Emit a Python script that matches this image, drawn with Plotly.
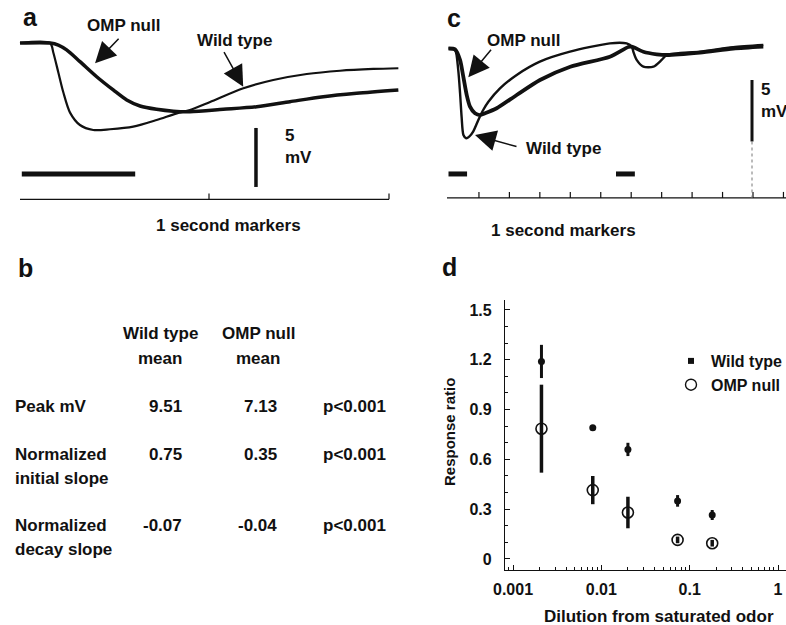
import plotly.graph_objects as go

W, H = 786, 625

# ---------------- data ----------------
# Panel a: membrane potential traces (time in s, potential in mV)
a_wt_t = [-0.05, 0.117, 0.135, 0.163, 0.191, 0.228, 0.283, 0.357, 0.45, 0.579, 0.709,
          0.821, 0.894, 1.006, 1.191, 1.357, 1.543, 1.728, 1.913, 2.052]
a_wt_mv = [0, 0, -0.8, -2.5, -4.2, -5.9, -6.95, -7.37, -7.31, -7.09, -6.53,
           -5.96, -5.68, -5.0, -3.84, -3.14, -2.63, -2.35, -2.20, -2.14]
a_omp_t = [-0.05, 0.117, 0.163, 0.209, 0.283, 0.376, 0.468, 0.543, 0.617, 0.709, 0.802,
           0.894, 1.079, 1.265, 1.45, 1.635, 1.82, 2.052]
a_omp_mv = [0, 0, -0.17, -0.59, -1.58, -2.86, -3.98, -4.83, -5.34, -5.62, -5.78,
            -5.82, -5.62, -5.40, -4.97, -4.55, -4.26, -3.98]
a_stim = [-0.04, 0.59]          # odor pulse (s)
a_markers = [1, 2]              # 1 second markers
a_marker_span = [-0.05, 2.0]
a_scale_t = 1.261
a_scale_mv = 5

# Panel c: longer recording with two odor pulses
c_wt_t = [0, 0.21, 0.32, 0.38, 0.43, 0.49, 0.58, 0.68, 0.81, 0.98, 1.14, 1.31, 1.69, 2.24,
          3.0, 3.99, 5.3, 5.85, 6.02, 6.07, 6.18, 6.4, 6.73, 7.0, 7.17, 8.26, 9.35, 10.34]
c_wt_mv = [0, -0.07, -1.75, -3.64, -5.54, -7.03, -7.3, -7.17, -6.76, -5.81, -5.0, -4.33,
           -3.24, -2.15, -1.07, -0.26, 0.42, 0.41, 0.15, -0.26, -0.93, -1.48, -1.48, -0.93,
           -0.53, -0.26, 0.10, 0.28]
c_omp_t = [0, 0.213, 0.378, 0.486, 0.598, 0.706, 0.87, 1.034, 1.199, 1.583, 2.24, 3.005,
           4.0, 5.3, 5.905, 6.016, 6.397, 6.837, 7.166, 8.259, 9.353, 10.338]
c_omp_mv = [0, -0.07, -0.93, -2.29, -3.78, -4.73, -5.27, -5.41, -5.27, -4.86, -3.78, -2.56,
            -1.48, -0.67, 0.12, 0.15, -0.26, -0.47, -0.53, -0.33, 0.0, 0.16]
c_stims = [[0.0, 0.61], [5.5, 6.12]]
c_markers = [1, 2, 3, 4, 5, 6, 7, 8, 9, 10, 11]
c_marker_span = [-0.05, 11.2]
c_scale_t = 9.967
c_scale_mv = 5

# Panel b: table
b_head_wt = ["Wild type", "mean"]
b_head_omp = ["OMP null", "mean"]
b_row_labels = [["Peak mV"], ["Normalized", "initial slope"], ["Normalized", "decay slope"]]
b_wt = ["9.51", "0.75", "-0.07"]
b_omp = ["7.13", "0.35", "-0.04"]
b_p = ["p&lt;0.001", "p&lt;0.001", "p&lt;0.001"]

# Panel d: response ratio vs dilution
d_dilution = [0.0021, 0.008, 0.02, 0.073, 0.18]
d_wt = [1.19, 0.79, 0.66, 0.35, 0.265]
d_wt_err = [0.10, 0.015, 0.04, 0.035, 0.03]
d_omp = [0.785, 0.415, 0.28, 0.115, 0.095]
d_omp_err = [0.265, 0.085, 0.095, 0.02, 0.02]
d_xticks = [0.001, 0.01, 0.1, 1]
d_xticktext = ["0.001", "0.01", "0.1", "1"]
d_yticks = [0, 0.3, 0.6, 0.9, 1.2, 1.5]
d_yticktext = ["0", "0.3", "0.6", "0.9", "1.2", "1.5"]

# ---------------- layout helpers ----------------
FONT = "Liberation Sans, Arial, sans-serif"
K = "#111111"
TS = 17  # text size


def px(x):
    return x / W


def py(y):
    return 1 - y / H


# panel a scale: t0 at px 29, 180 px/s ; 0 mV at py 43, 11.8 px/mV
A_XR = [(10 - 29) / 180, (410 - 29) / 180]
A_YR = [-(215 - 43) / 11.8, -(5 - 43) / 11.8]
A_STIM_Y = -11.1
A_AXIS_Y = -13.25
A_TICK = 0.5
A_SCALE_TOP = -7.2

# panel c scale: t0 at px 448.5, 30.45 px/s ; 0 mV at py 48.5, 12.3 px/mV
C_XR = [(440 - 448.5) / 30.45, (786 - 448.5) / 30.45]
C_YR = [-(215 - 48.5) / 12.3, -(5 - 48.5) / 12.3]
C_STIM_Y = -10.2
C_AXIS_Y = -12.15
C_TICK = 0.49
C_SCALE_TOP = -2.56

fig = go.Figure()


def seg(xs, ys, xa, ya, width, dash=None, color=K):
    fig.add_trace(go.Scatter(x=xs, y=ys, xaxis=xa, yaxis=ya, mode="lines",
                             line=dict(color=color, width=width, dash=dash),
                             showlegend=False, hoverinfo="skip"))


# ---- panel a ----
fig.add_trace(go.Scatter(x=a_omp_t, y=a_omp_mv, xaxis="x", yaxis="y", mode="lines",
                         line=dict(color=K, width=3.5, shape="spline", smoothing=0.8),
                         showlegend=False, name="OMP null"))
fig.add_trace(go.Scatter(x=a_wt_t, y=a_wt_mv, xaxis="x", yaxis="y", mode="lines",
                         line=dict(color=K, width=2.2, shape="spline", smoothing=0.8),
                         showlegend=False, name="Wild type"))
seg(a_stim, [A_STIM_Y] * 2, "x", "y", 5)
seg(a_marker_span, [A_AXIS_Y] * 2, "x", "y", 1.2)
for t in a_markers:
    seg([t, t], [A_AXIS_Y, A_AXIS_Y + A_TICK], "x", "y", 1.2)
seg([a_scale_t] * 2, [A_SCALE_TOP, A_SCALE_TOP - a_scale_mv], "x", "y", 3.5)

# ---- panel c ----
fig.add_trace(go.Scatter(x=c_omp_t, y=c_omp_mv, xaxis="x2", yaxis="y2", mode="lines",
                         line=dict(color=K, width=3.8, shape="spline", smoothing=0.7),
                         showlegend=False, name="OMP null"))
fig.add_trace(go.Scatter(x=c_wt_t, y=c_wt_mv, xaxis="x2", yaxis="y2", mode="lines",
                         line=dict(color=K, width=2.4, shape="spline", smoothing=0.7),
                         showlegend=False, name="Wild type"))
for s in c_stims:
    seg(s, [C_STIM_Y] * 2, "x2", "y2", 5)
seg(c_marker_span, [C_AXIS_Y] * 2, "x2", "y2", 1.2)
for t in c_markers:
    seg([t, t], [C_AXIS_Y, C_AXIS_Y + C_TICK], "x2", "y2", 1.2)
seg([c_scale_t] * 2, [C_SCALE_TOP, C_SCALE_TOP - c_scale_mv], "x2", "y2", 3)
seg([c_scale_t] * 2, [C_SCALE_TOP - c_scale_mv, C_AXIS_Y], "x2", "y2", 1, dash="dot", color="#777")

# ---- panel d ----
fig.add_trace(go.Scatter(x=d_dilution, y=d_omp, xaxis="x3", yaxis="y3", mode="markers",
                         marker=dict(symbol="circle-open", size=11, color=K, line=dict(width=1.6)),
                         error_y=dict(type="data", array=d_omp_err, color=K, thickness=3.5, width=0),
                         showlegend=False, name="OMP null"))
fig.add_trace(go.Scatter(x=d_dilution, y=d_wt, xaxis="x3", yaxis="y3", mode="markers",
                         marker=dict(symbol="circle", size=7, color=K),
                         error_y=dict(type="data", array=d_wt_err, color=K, thickness=3, width=0),
                         showlegend=False, name="Wild type"))
# legend entries
fig.add_trace(go.Scatter(x=[None], y=[None], xaxis="x3", yaxis="y3", mode="markers",
                         marker=dict(symbol="square", size=6, color=K), name="Wild type"))
fig.add_trace(go.Scatter(x=[None], y=[None], xaxis="x3", yaxis="y3", mode="markers",
                         marker=dict(symbol="circle-open", size=11, color=K, line=dict(width=1.4)),
                         name="OMP null"))

ann = []


def text(s, x, y, size=TS, xa="center", ya="middle", angle=0):
    ann.append(dict(text=s, x=px(x), y=py(y), xref="paper", yref="paper", showarrow=False,
                    xanchor=xa, yanchor=ya, textangle=angle, align="left",
                    font=dict(family=FONT, size=size, color=K, weight="bold")))


def arrow(x, y, ax, ay, xr, yr):
    ann.append(dict(text="", x=x, y=y, xref=xr, yref=yr, ax=ax, ay=ay, showarrow=True,
                    arrowhead=2, arrowsize=2.8, arrowwidth=1.5, arrowcolor=K, standoff=0))


# panel letters
text("a", 30, 17, size=25)
text("c", 454, 18, size=25)
text("b", 26, 268, size=25)
text("d", 450, 267, size=25)

# panel a labels
text("OMP null", 123, 25)
text("Wild type", 235, 40)
arrow(0.367, -1.72, 25, -26, "x", "y")
arrow(1.19, -3.70, -20, -36, "x", "y")
text("5<br>mV", 283, 146, xa="left")
text("1 second markers", 228, 226)

# panel c labels
text("OMP null", 523, 40)
text("Wild type", 563, 149)
arrow(0.650, -2.34, 24, -29, "x2", "y2")
arrow(0.870, -7.03, 43, 12, "x2", "y2")
text("5<br>mV", 759, 101, xa="left")
text("1 second markers", 563, 230)

# panel b table
for i, s in enumerate(b_head_wt):
    text(s, 160, 333 + 25 * i)
for i, s in enumerate(b_head_omp):
    text(s, 258, 333 + 25 * i)
row_y = [406, 454, 525]
for r, lines in enumerate(b_row_labels):
    for i, s in enumerate(lines):
        text(s, 13, row_y[r] + 24 * i, xa="left")
    text(b_wt[r], 184, row_y[r], xa="right")
    text(b_omp[r], 279, row_y[r], xa="right")
    text(b_p[r], 388, row_y[r], xa="right")

# panel d axis titles
text("Response ratio", 449, 432, size=15, angle=-90)
text("Dilution from saturated odor", 659, 616)

axis_off = dict(visible=False, showgrid=False, zeroline=False, fixedrange=True, automargin=False)

fig.update_layout(
    width=W, height=H, margin=dict(l=0, r=0, t=0, b=0, pad=0, autoexpand=False),
    paper_bgcolor="white", plot_bgcolor="white",
    font=dict(family=FONT, color=K, size=16),
    showlegend=True,
    legend=dict(x=px(671), y=py(344), xanchor="left", yanchor="top", bgcolor="rgba(0,0,0,0)",
                font=dict(family=FONT, size=16, color=K, weight="bold"), tracegroupgap=0,
                itemwidth=30),
    xaxis=dict(domain=[px(10), px(410)], range=A_XR, anchor="y", **axis_off),
    yaxis=dict(domain=[py(215), py(5)], range=A_YR, anchor="x", **axis_off),
    xaxis2=dict(domain=[px(440), px(786)], range=C_XR, anchor="y2", **axis_off),
    yaxis2=dict(domain=[py(215), py(5)], range=C_YR, anchor="x2", **axis_off),
    xaxis3=dict(domain=[px(505), 1.0], type="log", range=[-3.0906, 0.0906], anchor="y3",
                automargin=False,
                showline=True, linecolor=K, linewidth=1.3, mirror=False,
                ticks="inside", ticklen=5, tickwidth=1, tickcolor=K,
                tickmode="array", tickvals=d_xticks, ticktext=d_xticktext,
                minor=dict(ticks="inside", ticklen=3, tickwidth=1, tickcolor=K, dtick="D1",
                           showgrid=False),
                tickfont=dict(family=FONT, size=16, color=K, weight="bold"),
                ticklabelstandoff=5, showgrid=False, zeroline=False),
    yaxis3=dict(domain=[py(570), py(300)], range=[-0.0663, 1.5602], anchor="x3",
                automargin=False,
                showline=True, linecolor=K, linewidth=1.3,
                ticks="inside", ticklen=5, tickwidth=1, tickcolor=K,
                tickmode="array", tickvals=d_yticks, ticktext=d_yticktext,
                minor=dict(ticks="inside", ticklen=3, tickwidth=1, tickcolor=K, dtick=0.1,
                           showgrid=False),
                tickfont=dict(family=FONT, size=16, color=K, weight="bold"),
                ticklabelstandoff=9, showgrid=False, zeroline=False),
    annotations=ann,
)

fig.write_html("out.html", config={"displayModeBar": False},
               post_script="document.body.style.margin='0px';"
                           "document.body.style.overflow='hidden';")
